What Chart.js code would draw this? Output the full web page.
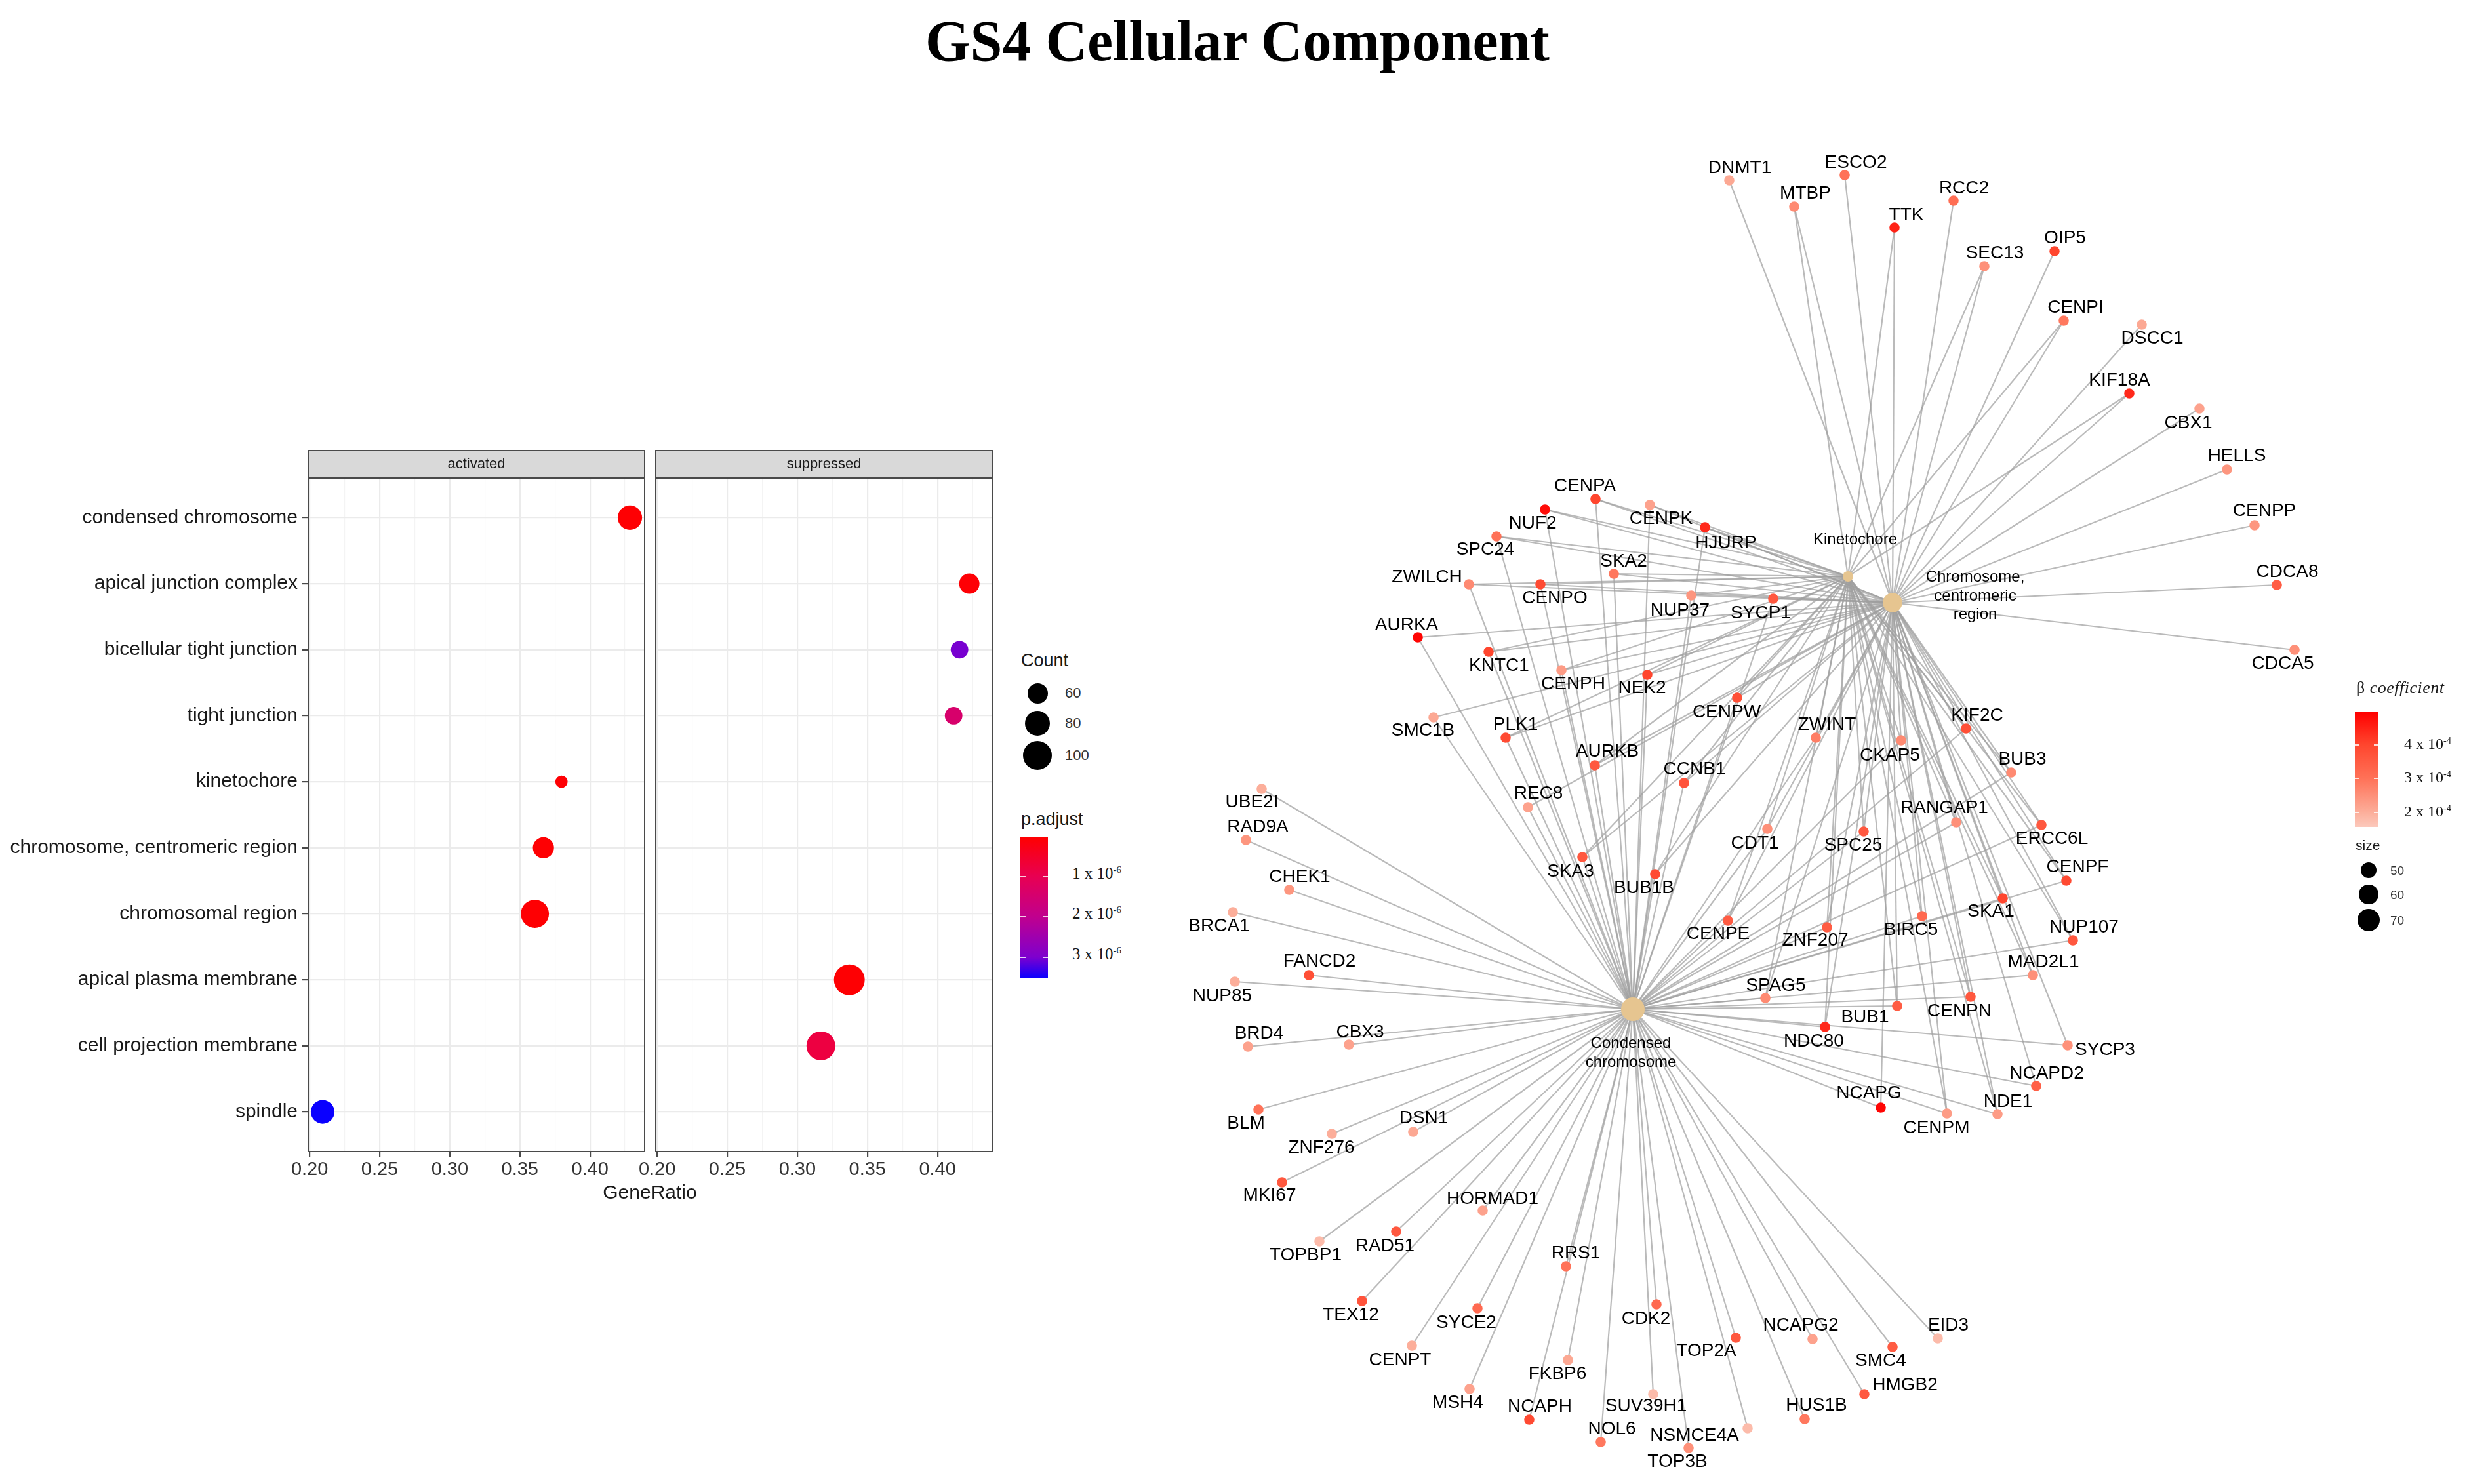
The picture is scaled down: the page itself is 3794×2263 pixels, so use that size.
<!DOCTYPE html>
<html><head><meta charset="utf-8">
<script src="https://cdn.jsdelivr.net/npm/chart.js@4.4.1/dist/chart.umd.min.js"></script>
<style>
html,body{margin:0;padding:0;background:#fff}
body{width:3794px;height:2263px;position:relative;overflow:hidden;font-family:'Liberation Sans',Arial,sans-serif;color:#1a1a1a}
.a{position:absolute;white-space:nowrap;line-height:1}
canvas{position:absolute}
.serif{font-family:'Liberation Serif','Times New Roman',serif}
sup{font-size:60%;vertical-align:0.55em;line-height:0}
</style></head><body>
<div class="a serif" style="left:1887px;top:18px;transform:translateX(-50%);font-size:88px;font-weight:bold;line-height:90px;color:#000">GS4 Cellular Component</div>
<canvas id="act" width="986" height="1120" style="left:0;top:686px"></canvas>
<canvas id="sup" width="550" height="1120" style="left:966px;top:686px"></canvas>
<canvas id="net" width="2014" height="2263" style="left:1780px;top:0"></canvas>
<div class="a" style="left:991px;top:1818px;transform:translate(-50%,-50%);font-size:30px;color:#1a1a1a">GeneRatio</div>
<div id="legends"></div>
<script>
// ---------------- dot plot data ----------------
const goTerms = ['condensed chromosome','apical junction complex','bicellular tight junction','tight junction','kinetochore','chromosome, centromeric region','chromosomal region','apical plasma membrane','cell projection membrane','spindle'];
const panelNames = ['activated','suppressed'];
const activatedTerms = ['condensed chromosome','kinetochore','chromosome, centromeric region','chromosomal region','spindle'];
const activatedGeneRatio = [0.4285, 0.3797, 0.3668, 0.3607, 0.2093];
const activatedCount = [77, 35, 63, 96, 74];
const activatedPadj = [0.05e-6, 0.06e-6, 0.05e-6, 0.05e-6, 3.52e-6];
const suppressedTerms = ['apical junction complex','bicellular tight junction','tight junction','apical plasma membrane','cell projection membrane'];
const suppressedGeneRatio = [0.4227, 0.4157, 0.4115, 0.3371, 0.3168];
const suppressedCount = [60, 50, 50, 111, 100];
const suppressedPadj = [0.07e-6, 3.02e-6, 1.42e-6, 0.05e-6, 0.79e-6];
const geneRatioBreaks = [0.20, 0.25, 0.30, 0.35, 0.40];
const countBreaks = [60, 80, 100];
const padjBreaks = [1e-6, 2e-6, 3e-6];
const padjRange = [0.016e-6, 3.52e-6];

// ---------------- network data ----------------
const categoryNames = ['Kinetochore', 'Chromosome,\ncentromeric\nregion', 'Condensed\nchromosome'];
const categoryX = [2818, 2886, 2490];
const categoryY = [879, 919, 1539];
const categorySize = [39, 60, 75];
const sizeBreaks = [50, 60, 70];
const betaBreaks = [4, 3, 2];        // x 10^-4
const betaRange = [1.57, 4.97];      // x 10^-4
const geneNames = ['DNMT1','ESCO2','MTBP','RCC2','TTK','OIP5','SEC13','CENPI','DSCC1','KIF18A','CBX1','HELLS','CENPP','CDCA8','CDCA5',
 'CENPA','NUF2','CENPK','HJURP','SPC24','SKA2','ZWILCH','CENPO','NUP37','SYCP1','AURKA','KNTC1','CENPH','NEK2','CENPW','SMC1B','PLK1','ZWINT','KIF2C','CKAP5','AURKB','BUB3','CCNB1','REC8','UBE2I','RAD9A','RANGAP1','ERCC6L','CDT1','SPC25','SKA3','CHEK1','BUB1B','CENPF','SKA1','BIRC5','CENPE','ZNF207','NUP107','MAD2L1','SPAG5','CENPN','BUB1','NDC80','SYCP3','NCAPD2','NCAPG','NDE1','CENPM',
 'BRCA1','FANCD2','NUP85','BRD4','CBX3','BLM','ZNF276','DSN1','MKI67','HORMAD1','TOPBP1','RAD51','RRS1','TEX12','SYCE2','CDK2','CENPT','TOP2A','NCAPG2','EID3','SMC4','FKBP6','MSH4','HMGB2','SUV39H1','NCAPH','HUS1B','NOL6','NSMCE4A','TOP3B'];
const geneX = [2637,2813,2736,2979,2889,3133,3026,3147,3266,3247,3354,3396,3438,3472,3499,
 2433,2356,2516,2600,2282,2461,2240,2349,2579,2704,2162,2270,2381,2512,2649,2186,2296,2769,2998,2899,2432,3067,2568,2330,1924,1900,2983,3113,2695,2842,2413,1966,2524,3151,3054,2931,2635,2786,3161,3100,2692,3005,2893,2783,3153,3105,2868,3046,2969,
 1880,1996,1883,1903,2057,1919,2031,2155,1955,2261,2012,2129,2388,2077,2253,2526,2153,2647,2764,2955,2886,2391,2241,2843,2521,2332,2752,2441,2665,2575];
const geneY = [275,267,315,306,347,383,406,489,495,600,623,716,801,892,991,
 761,777,770,804,818,875,891,891,908,913,972,994,1022,1029,1064,1094,1125,1125,1111,1129,1167,1178,1194,1231,1203,1281,1254,1258,1264,1268,1307,1357,1333,1343,1370,1397,1404,1414,1434,1487,1522,1520,1534,1566,1594,1656,1689,1699,1698,
 1391,1487,1497,1596,1593,1692,1729,1726,1803,1846,1893,1878,1931,1984,1995,1989,2052,2040,2042,2041,2054,2074,2118,2126,2126,2165,2164,2199,2178,2208];
const geneBeta = [2.1,3.0,2.6,3.1,4.5,4.0,2.5,2.9,2.1,4.4,2.2,2.4,2.4,3.5,2.5,
 4.0,4.8,2.2,4.4,3.0,2.9,2.6,3.9,2.4,3.6,4.9,4.0,2.3,4.0,3.8,2.1,3.9,2.8,3.8,2.6,3.6,2.6,3.7,2.2,2.0,2.4,2.5,3.6,2.5,3.6,3.6,2.4,3.9,3.9,4.0,3.2,3.5,3.5,3.6,2.5,2.6,3.6,3.5,4.4,2.5,3.4,4.9,2.3,2.3,
 2.0,3.8,2.0,2.2,2.2,3.0,2.0,2.1,3.6,2.2,1.8,3.6,3.0,3.7,3.2,3.2,2.0,3.6,2.2,1.8,3.5,2.1,2.2,3.6,1.8,3.9,2.9,2.9,1.8,2.5];
// K = Kinetochore, C = Chromosome, centromeric region, D = Condensed chromosome
const geneTerms = ['C','C','KC','C','KC','C','KC','KC','C','KC','C','C','C','C','C',
 'KCD','KCD','KCD','KCD','KCD','KCD','KCD','KCD','KCD','CD','CD','KCD','KCD','KCD','KCD','CD','KCD','KCD','KCD','KCD','KCD','KCD','KCD','CD','D','D','KCD','KCD','KCD','KCD','KCD','D','KCD','KCD','KCD','KCD','KCD','KCD','KCD','KCD','KCD','KCD','KCD','KCD','CD','CD','CD','KCD','KCD',
 'D','D','D','D','D','D','D','D','D','D','D','D','D','D','D','D','D','D','D','D','D','D','D','D','D','D','D','D','D','D'];
// label placement (pixel offsets from node, layout only)
const labelDX = [16,17,17,16,18,16,16,18,16,-15,-17,15,15,16,-18,
 -16,-19,17,32,-17,15,-64,22,-17,-19,-17,16,18,-8,-16,-16,15,17,17,-17,19,17,16,16,-15,18,-18,16,-19,-16,-18,16,-17,17,-18,-17,-15,-18,17,16,16,-17,-49,-17,57,16,-18,16,-16,
 -21,16,-19,17,17,-19,-16,16,-19,15,-21,-17,15,-17,-17,-16,-18,-45,-18,16,-18,-16,-18,62,-11,16,18,17,-81,-17];
const labelDY = [-19,-19,-20,-19,-19,-20,-20,-20,21,-20,22,-21,-22,-20,21,
 -20,21,21,24,20,-19,-11,21,23,22,-19,21,21,20,22,20,-20,-20,-20,23,-21,-20,-21,-21,20,-20,-22,21,22,21,22,-20,21,-21,20,21,20,20,-20,-20,-19,22,17,22,7,-19,-22,-19,22,
 21,-21,22,-20,-19,21,21,-21,20,-18,21,22,-20,21,22,22,22,20,-21,-20,21,21,21,-14,18,-20,-21,-20,11,21];
const categoryLabelDX = [11, 126, -3];
const categoryLabelDY = [-56, -10, 67];

// ---------------- styling helpers ----------------
const FONT = "'Liberation Sans', Arial, sans-serif";
const padjStops = [[0,[255,0,0]],[0.28,[232,0,82]],[0.565,[192,0,142]],[0.85,[126,0,206]],[1,[10,0,255]]];
const betaStops = [[0,[252,201,188]],[0.126,[252,174,154]],[0.42,[255,114,88]],[0.715,[255,70,46]],[1,[255,0,0]]];
function lerpStops(stops, t) {
  t = Math.max(0, Math.min(1, t));
  for (let i = 1; i < stops.length; i++) {
    if (t <= stops[i][0]) {
      const [t0, c0] = stops[i-1], [t1, c1] = stops[i];
      const f = (t - t0) / (t1 - t0);
      return 'rgb(' + c0.map((v, k) => Math.round(v + (c1[k] - v) * f)).join(',') + ')';
    }
  }
  return 'rgb(' + stops[stops.length-1][1].join(',') + ')';
}
const padjColor = p => lerpStops(padjStops, (p - padjRange[0]) / (padjRange[1] - padjRange[0]));
const betaColor = b => lerpStops(betaStops, (b - betaRange[0]) / (betaRange[1] - betaRange[0]));
const countDiam = c => Math.sqrt(961 + (c - 60) * 24.4);
const sizeDiam = n => Math.sqrt(576 + (n - 50) * 29);
const gradCSS = stops => 'linear-gradient(to bottom,' + stops.map(s => 'rgb(' + s[1].join(',') + ') ' + (s[0]*100) + '%').join(',') + ')';
const isMajor = v => Math.abs(v * 20 - Math.round(v * 20)) < 1e-6;
const ratioGrid = geneRatioBreaks.flatMap(v => [v, +(v + 0.025).toFixed(3)]);

// strip + border plugin for facet panels
const panelFrame = {
  id: 'panelFrame',
  afterDraw(chart, args, opts) {
    const {ctx, chartArea: a} = chart;
    ctx.save();
    ctx.fillStyle = '#D9D9D9';
    ctx.fillRect(a.left, a.top - 43, a.right - a.left, 43);
    ctx.strokeStyle = '#4a4a4a'; ctx.lineWidth = 2;
    ctx.strokeRect(a.left, a.top - 43, a.right - a.left, 43);
    ctx.strokeRect(a.left, a.top, a.right - a.left, a.bottom - a.top);
    ctx.fillStyle = '#1a1a1a'; ctx.font = '22px ' + FONT;
    ctx.textAlign = 'center'; ctx.textBaseline = 'middle';
    ctx.fillText(opts.label, (a.left + a.right) / 2, a.top - 21);
    ctx.restore();
  }
};

function dotPanel(id, label, terms, ratio, count, padj, showY) {
  return new Chart(document.getElementById(id), {
    type: 'scatter',
    data: { datasets: [{
      data: terms.map((t, i) => ({ x: ratio[i], y: goTerms.indexOf(t) })),
      pointRadius: c => countDiam(count[c.dataIndex]) / 2,
      pointHoverRadius: c => countDiam(count[c.dataIndex]) / 2,
      pointBackgroundColor: c => padjColor(padj[c.dataIndex]),
      pointBorderWidth: 0, borderWidth: 0
    }]},
    options: {
      responsive: false, animation: false, devicePixelRatio: 1,
      layout: { autoPadding: false, padding: { top: 43, right: 3, bottom: 0, left: showY ? 0 : 34 } },
      plugins: { legend: { display: false }, tooltip: { enabled: false }, panelFrame: { label } },
      scales: {
        x: {
          type: 'linear', min: 0.199, max: 0.439,
          afterBuildTicks: s => { s.ticks = ratioGrid.map(v => ({ value: v })); },
          afterFit: s => { s.height = 50; s.paddingLeft = 0; s.paddingRight = 0; },
          border: { display: false },
          grid: {
            color: c => isMajor(c.tick.value) ? '#EBEBEB' : '#F4F4F4',
            lineWidth: c => isMajor(c.tick.value) ? 2.2 : 1.2,
            tickColor: c => isMajor(c.tick.value) ? '#4a4a4a' : 'rgba(0,0,0,0)',
            tickLength: 9
          },
          ticks: { autoSkip: false, maxRotation: 0, padding: 2, color: '#333', font: { family: FONT, size: 29 },
                   callback: v => isMajor(v) ? v.toFixed(2) : '' }
        },
        y: {
          type: 'linear', min: -0.6, max: goTerms.length - 0.4, reverse: true,
          afterBuildTicks: s => { s.ticks = goTerms.map((t, i) => ({ value: i })); },
          afterFit: s => { s.width = showY ? 470 : 0; s.paddingTop = 0; s.paddingBottom = 0; },
          border: { display: false },
          grid: { color: '#EBEBEB', lineWidth: 2.2, tickColor: '#4a4a4a', tickLength: 9, drawTicks: showY },
          ticks: { display: showY, autoSkip: false, padding: 7, color: '#1a1a1a', font: { family: FONT, size: 30 },
                   callback: v => goTerms[v] }
        }
      }
    },
    plugins: [panelFrame]
  });
}
dotPanel('act', panelNames[0], activatedTerms, activatedGeneRatio, activatedCount, activatedPadj, true);
dotPanel('sup', panelNames[1], suppressedTerms, suppressedGeneRatio, suppressedCount, suppressedPadj, false);

// ---------------- network ----------------
const codeIndex = { K: 0, C: 1, D: 2 };
const edgeSets = [];
geneNames.forEach((g, i) => {
  geneTerms[i].split('').forEach(code => {
    const k = codeIndex[code];
    edgeSets.push({
      data: [{ x: geneX[i], y: geneY[i] }, { x: categoryX[k], y: categoryY[k] }],
      showLine: true, borderColor: 'rgba(160,160,160,0.72)', borderWidth: 2.2,
      pointRadius: 0, pointHoverRadius: 0, order: 3
    });
  });
});
const netLabels = {
  id: 'netLabels',
  afterDatasetsDraw(chart) {
    const { ctx, scales: { x, y } } = chart;
    ctx.save();
    ctx.fillStyle = '#000'; ctx.textAlign = 'center'; ctx.textBaseline = 'middle';
    ctx.font = '28px ' + FONT;
    geneNames.forEach((g, i) => {
      ctx.fillText(g, x.getPixelForValue(geneX[i]) + labelDX[i], y.getPixelForValue(geneY[i]) + labelDY[i]);
    });
    ctx.font = '24px ' + FONT;
    categoryNames.forEach((n, k) => {
      const lines = n.split('\n');
      const cx = x.getPixelForValue(categoryX[k]) + categoryLabelDX[k];
      const cy = y.getPixelForValue(categoryY[k]) + categoryLabelDY[k];
      lines.forEach((ln, j) => ctx.fillText(ln, cx, cy + (j - (lines.length - 1) / 2) * 28.5));
    });
    ctx.restore();
  }
};
new Chart(document.getElementById('net'), {
  type: 'scatter',
  data: { datasets: [
    ...edgeSets,
    { data: geneNames.map((g, i) => ({ x: geneX[i], y: geneY[i] })),
      pointRadius: 7.8, pointHoverRadius: 7.8, pointBackgroundColor: geneBeta.map(betaColor), pointBorderWidth: 0, order: 1 },
    { data: categoryNames.map((n, k) => ({ x: categoryX[k], y: categoryY[k] })),
      pointRadius: categorySize.map(s => sizeDiam(s) / 2), pointHoverRadius: categorySize.map(s => sizeDiam(s) / 2),
      pointBackgroundColor: '#E6C590', pointBorderWidth: 0, order: 0 }
  ]},
  options: {
    responsive: false, animation: false, devicePixelRatio: 1,
    layout: { autoPadding: false, padding: 0 },
    plugins: { legend: { display: false }, tooltip: { enabled: false } },
    scales: {
      x: { type: 'linear', min: 1780, max: 3794, display: false },
      y: { type: 'linear', min: 0, max: 2263, reverse: true, display: false }
    }
  },
  plugins: [netLabels]
});

// ---------------- legends (HTML text) ----------------
const L = document.getElementById('legends');
function addDiv(html, style, cls) {
  const d = document.createElement('div');
  d.className = 'a' + (cls ? ' ' + cls : '');
  d.innerHTML = html; d.style.cssText = style; L.appendChild(d); return d;
}
// Count legend
addDiv('Count', 'left:1557px;top:1007px;transform:translateY(-50%);font-size:27px;color:#1a1a1a');
const countY = [1057, 1103, 1152];
countBreaks.forEach((c, i) => {
  const d = countDiam(c);
  addDiv('', `left:${1582 - d/2}px;top:${countY[i] - d/2}px;width:${d}px;height:${d}px;border-radius:50%;background:#000`);
  addDiv(String(c), `left:1624px;top:${countY[i]}px;transform:translateY(-50%);font-size:22px;color:#333`);
});
// p.adjust legend
addDiv('p.adjust', 'left:1557px;top:1249px;transform:translateY(-50%);font-size:27px;color:#1a1a1a');
const pTop = 1276, pH = 216;
addDiv('', `left:1556px;top:${pTop}px;width:42px;height:${pH}px;background:${gradCSS(padjStops)}`);
padjBreaks.forEach((p, i) => {
  const yy = pTop + (p - padjRange[0]) / (padjRange[1] - padjRange[0]) * pH;
  addDiv('', `left:1556px;top:${yy - 1}px;width:8px;height:2px;background:rgba(255,255,255,0.8)`);
  addDiv('', `left:1590px;top:${yy - 1}px;width:8px;height:2px;background:rgba(255,255,255,0.8)`);
  addDiv(`${i + 1} x 10<sup>-6</sup>`, `left:1635px;top:${yy - 6}px;transform:translateY(-50%);font-size:25px;color:#1a1a1a`, 'serif');
});
// beta coefficient legend
addDiv('β <i>coefficient</i>', 'left:3593px;top:1049px;transform:translateY(-50%);font-size:26px;color:#1a1a1a;letter-spacing:0.5px', 'serif');
const bTop = 1086, bH = 175;
addDiv('', `left:3591px;top:${bTop}px;width:36px;height:${bH}px;background:${gradCSS(betaStops.slice().reverse().map(s => [1 - s[0], s[1]]))}`);
betaBreaks.forEach(b => {
  const yy = bTop + (betaRange[1] - b) / (betaRange[1] - betaRange[0]) * bH;
  addDiv('', `left:3591px;top:${yy - 1}px;width:7px;height:2px;background:rgba(255,255,255,0.8)`);
  addDiv('', `left:3620px;top:${yy - 1}px;width:7px;height:2px;background:rgba(255,255,255,0.8)`);
  addDiv(`${b} x 10<sup>-4</sup>`, `left:3666px;top:${yy - 2}px;transform:translateY(-50%);font-size:24px;color:#1a1a1a`, 'serif');
});
// size legend
addDiv('size', 'left:3592px;top:1288px;transform:translateY(-50%);font-size:21px;color:#1a1a1a');
const sizeY = [1327, 1364, 1403];
sizeBreaks.forEach((n, i) => {
  const d = sizeDiam(n);
  addDiv('', `left:${3612 - d/2}px;top:${sizeY[i] - d/2}px;width:${d}px;height:${d}px;border-radius:50%;background:#000`);
  addDiv(String(n), `left:3645px;top:${sizeY[i]}px;transform:translateY(-50%);font-size:19px;color:#333`);
});
</script>
</body></html>
